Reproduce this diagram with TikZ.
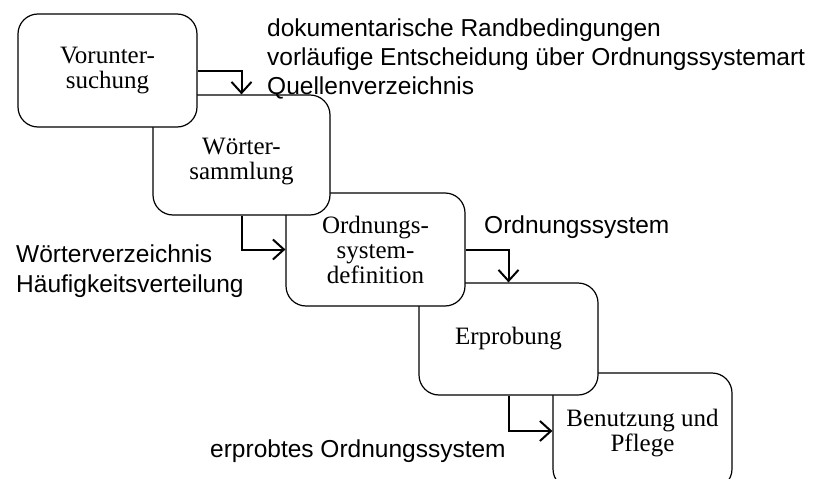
\documentclass[tikz,border=0pt]{standalone}
\usepackage{fontspec}
\setmainfont{Liberation Serif}
\newfontfamily\arialfont{Liberation Sans}
\usetikzlibrary{arrows.meta}
\newcommand{\lowered}[2]{\raisebox{-#1}[\height][\depth]{\begin{tabular}{@{}c@{}}#2\end{tabular}}}
\tikzset{
  phase/.style={draw, fill=white, rounded corners=20pt, line width=1.2pt,
    minimum width=179pt, align=center, inner sep=0pt,
    font=\fontsize{25pt}{25pt}\selectfont},
  flow/.style={line width=2pt, -{Straight Barb[length=11pt,width=20pt]}},
  lbl/.style={anchor=base west, inner sep=0pt,
    font=\arialfont\fontsize{24.5pt}{29pt}\selectfont}
}
\begin{document}
\begin{tikzpicture}[x=1pt,y=-1pt]
\useasboundingbox (0,0) rectangle (825,479);
\clip (0,0) rectangle (825,479);
% boxes drawn last-to-first so that earlier ones lie on top
\node[phase, minimum height=116pt] (b5) at (642.5,431) {\lowered{3pt}{Benutzung und\\Pflege}};
\node[phase, minimum height=112pt] (b4) at (508.5,339) {Erprobung};
\node[phase, minimum height=113pt] (b3) at (375.5,249.5) {Ordnungs-\\system-\\definition};
\node[phase, minimum width=177pt, minimum height=120pt] (b2) at (241.5,155) {\lowered{7pt}{W\"orter-\\sammlung}};
\node[phase, minimum height=113pt] (b1) at (107.5,70.5) {Vorunter-\\suchung};
% connectors
\draw[flow] (b1.east) -| (b2.north);
\draw[flow] (b2.south) |- (b3.west);
\draw[flow] (b3.east) -| (b4.north);
\draw[flow] (b4.south) |- (b5.west);
% labels
\node[lbl] (t1a) at (267,36) {dokumentarische Randbedingungen};
\node[lbl] (t1b) at (267,65) {vorl\"aufige Entscheidung \"uber Ordnungssystemart};
\node[lbl] (t1c) at (267,94) {Quellenverzeichnis};
\node[lbl] (t2) at (484,233) {Ordnungssystem};
\node[lbl] (t3a) at (16,262) {W\"orterverzeichnis};
\node[lbl] (t3b) at (16,292) {H\"aufigkeitsverteilung};
\node[lbl] (t4) at (210,457) {erprobtes Ordnungssystem};
\end{tikzpicture}
\end{document}
